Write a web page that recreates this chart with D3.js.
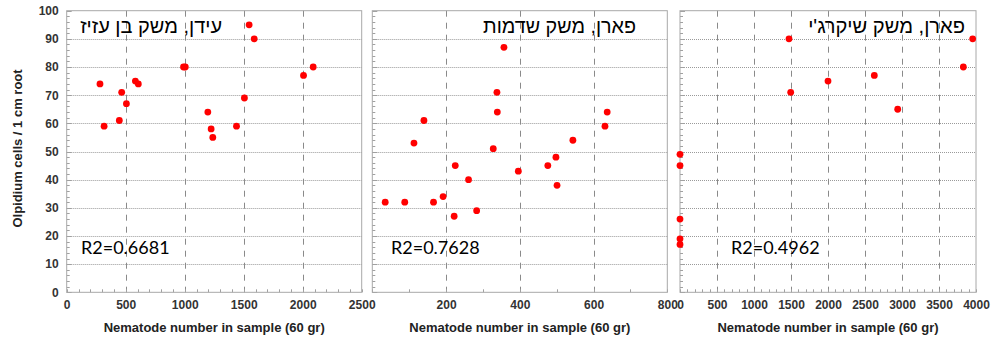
<!DOCTYPE html>
<html><head><meta charset="utf-8">
<script src="https://cdn.jsdelivr.net/npm/d3@7"></script>
<style>body{margin:0;background:#fff}svg{display:block}</style>
</head><body>
<script>
// ---- data ----
const panelTitles = ["עידן,  משק בן עזיז", "פארן,  משק שדמות", "פארן,  משק שיקרג'י"];
const r2Labels = ["R2=0.6681", "R2=0.7628", "R2=0.4962"];
const xDomains = [[0, 2500], [0, 800], [0, 4000]];
const xTickValues = [[0, 500, 1000, 1500, 2000, 2500], [200, 400, 600, 800], [0, 500, 1000, 1500, 2000, 2500, 3000, 3500, 4000]];
const yTickValues = [0, 10, 20, 30, 40, 50, 60, 70, 80, 90, 100];

const idanX = [282, 317, 446, 466, 506, 582, 607, 990, 1005, 1196, 1224, 1238, 1439, 1506, 1546, 1589, 2007, 2089];
const idanY = [74, 59, 61, 71, 67, 75, 74, 80, 80, 64, 58, 55, 59, 69, 95, 90, 77, 80];
const sdemotX = [35, 88, 113, 140, 166, 192, 222, 225, 261, 283, 328, 338, 339, 357, 396, 476, 498, 501, 544, 631, 637];
const sdemotY = [32, 32, 53, 61, 32, 34, 27, 45, 40, 29, 51, 71, 64, 87, 43, 45, 48, 38, 54, 59, 64];
const shikrajiX = [0, 0, 0, 0, 0, 1473, 1496, 2000, 2626, 2942, 3829, 3955];
const shikrajiY = [49, 45, 26, 19, 17, 90, 71, 75, 77, 65, 80, 90];

const seriesX = [idanX, sdemotX, shikrajiX];
const seriesY = [idanY, sdemotY, shikrajiY];

const xAxisTitle = "Nematode number in sample (60 gr)";
const yAxisTitle = "Olpidium cells / 1 cm root";

// ---- layout ----
const W = 998, H = 343;
const panelLeft = [66.7, 372.3, 680];
const panelRight = [361.7, 667.3, 976];
const plotTop = 10.7, plotBottom = 292.3;
const minorStep = [100, 100, 100];
const titleLeft = [80, 483, 808];
const titleRight = [222, 636, 965];
const r2Left = [81, 391, 731];

const svg = d3.select("body").append("svg").attr("width", W).attr("height", H);
const y = d3.scaleLinear().domain([0, 100]).range([plotBottom, plotTop]);

const sans = "'Liberation Sans', Arial, sans-serif";

for (let p = 0; p < 3; p++) {
  const x = d3.scaleLinear().domain(xDomains[p]).range([panelLeft[p], panelRight[p]]);
  const g = svg.append("g");

  // horizontal dotted gridlines
  g.selectAll(".hg").data(yTickValues.filter(v => v > 0 && v < 100)).join("line")
    .attr("x1", x.range()[0]).attr("x2", x.range()[1])
    .attr("y1", d => Math.round(y(d)) + 0.5).attr("y2", d => Math.round(y(d)) + 0.5)
    .attr("stroke", "#9a9a9a").attr("stroke-dasharray", "1,1").attr("stroke-width", 1);

  // vertical dashed gridlines
  const inner = xTickValues[p].filter(v => v > xDomains[p][0] && v < xDomains[p][1]);
  g.selectAll(".vg").data(inner).join("line")
    .attr("x1", d => Math.round(x(d)) + 0.5).attr("x2", d => Math.round(x(d)) + 0.5)
    .attr("y1", y(100)).attr("y2", y(0))
    .attr("stroke", "#8a8a8a").attr("stroke-dasharray", "6,6").attr("stroke-width", 1);

  // minor ticks left (inside)
  const yMinor = d3.range(0, 101, 2);
  g.selectAll(".ym").data(yMinor).join("line")
    .attr("x1", x.range()[0]).attr("x2", d => x.range()[0] + (d % 10 === 0 ? 5 : 3))
    .attr("y1", d => Math.round(y(d)) + 0.5).attr("y2", d => Math.round(y(d)) + 0.5)
    .attr("stroke", "#a0a0a0").attr("stroke-width", 1);

  // minor ticks bottom (inside)
  const xMinor = d3.range(xDomains[p][0], xDomains[p][1] + 1, minorStep[p]);
  g.selectAll(".xm").data(xMinor).join("line")
    .attr("x1", d => Math.round(x(d)) + 0.5).attr("x2", d => Math.round(x(d)) + 0.5)
    .attr("y1", y(0)).attr("y2", y(0) - 3)
    .attr("stroke", "#a0a0a0").attr("stroke-width", 1);

  // frame
  g.append("rect")
    .attr("x", x.range()[0]).attr("y", y(100))
    .attr("width", x.range()[1] - x.range()[0]).attr("height", y(0) - y(100))
    .attr("fill", "none").attr("stroke", "#a8a8a8").attr("stroke-width", 1);

  // x tick labels
  const xAxis = d3.axisBottom(x).tickValues(xTickValues[p]).tickSize(0).tickPadding(0).tickFormat(d3.format("d"));
  const ax = g.append("g").attr("transform", `translate(0,${plotBottom + 8})`).call(xAxis);
  ax.select(".domain").remove();
  ax.selectAll("text").attr("font-family", sans).attr("font-size", 12).attr("font-weight", "bold")
    .attr("fill", "#333").attr("dy", "0.71em");

  // y tick labels (only first panel)
  if (p === 0) {
    const yAxis = d3.axisLeft(y).tickValues(yTickValues).tickSize(0).tickPadding(0);
    const ay = g.append("g").attr("transform", `translate(${panelLeft[0] - 8},0)`).call(yAxis);
    ay.select(".domain").remove();
    ay.selectAll("text").attr("font-family", sans).attr("font-size", 12).attr("font-weight", "bold").attr("fill", "#333");
  }

  // points
  g.selectAll(".pt").data(seriesX[p].map((v, i) => [v, seriesY[p][i]])).join("circle")
    .attr("cx", d => x(d[0])).attr("cy", d => y(d[1])).attr("r", 3.4).attr("fill", "#ff0000");

  // titles: fit between measured left/right edges
  const t = g.append("text").attr("x", 0).attr("y", 33).attr("text-anchor", "start")
    .attr("font-family", "'Liberation Sans', Arial, sans-serif").attr("font-size", 20)
    .attr("fill", "#000").text(panelTitles[p]);
  let bb = t.node().getBBox();
  const targetW = titleRight[p] - titleLeft[p];
  t.attr("font-size", 20 * Math.min(1.1, targetW / bb.width));
  bb = t.node().getBBox();
  t.attr("x", titleRight[p] - bb.width);

  // R2
  g.append("text").attr("x", r2Left[p]).attr("y", 254)
    .attr("font-family", "Lato, 'Open Sans', sans-serif").attr("font-size", 18)
    .attr("fill", "#000").text(r2Labels[p]);

  // x axis title
  g.append("text").attr("x", (panelLeft[p] + panelRight[p]) / 2).attr("y", 332).attr("text-anchor", "middle")
    .attr("font-family", sans).attr("font-size", 13).attr("font-weight", "bold").attr("fill", "#222")
    .text(xAxisTitle);
}

// y axis title
svg.append("text").attr("transform", `translate(22,${(plotTop + plotBottom) / 2 - 3}) rotate(-90)`)
  .attr("text-anchor", "middle").attr("font-family", sans).attr("font-size", 13).attr("font-weight", "bold")
  .attr("fill", "#222").text(yAxisTitle);
</script>
</body></html>
